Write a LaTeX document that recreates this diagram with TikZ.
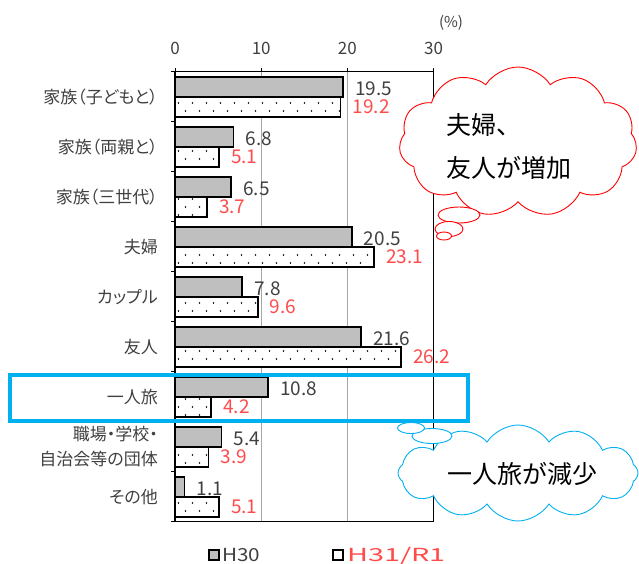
\documentclass[tikz,border=0pt]{standalone}
\usepackage{fontspec}
\newfontfamily\jp{Noto Sans CJK JP}
\newfontfamily\jpp[RawFeature=+palt]{Noto Sans CJK JP}
\usetikzlibrary{shapes.symbols,shapes.geometric,patterns}
\pgfdeclarepatternformonly{sparsedots}{\pgfpoint{-1pt}{-1pt}}{\pgfpoint{15pt}{17pt}}{\pgfpoint{14pt}{16pt}}{%
 \pgfpathcircle{\pgfpoint{3.5pt}{4pt}}{0.8pt}%
 \pgfpathcircle{\pgfpoint{10.5pt}{12pt}}{0.8pt}%
 \pgfusepath{fill}}
\definecolor{barg}{HTML}{BFBFBF}
\definecolor{txtg}{HTML}{404040}
\definecolor{valred}{HTML}{FF4B4B}
\definecolor{cyanb}{HTML}{00B0F0}
\definecolor{gridg}{HTML}{A6A6A6}
\tikzset{
  graybar/.style={draw=black, line width=1.6pt, fill=barg},
  dotbar/.style={draw=black, line width=1.6pt, preaction={fill=white}, pattern=sparsedots},
  catlab/.style={anchor=east, inner sep=0, align=right, text=txtg, font=\jpp\fontsize{17}{25}\selectfont},
  vallab/.style={anchor=west, inner sep=0, text=txtg, font=\jp\fontsize{19}{22}\selectfont},
  redlab/.style={anchor=west, inner sep=0, text=valred, font=\jp\fontsize{19}{22}\selectfont},
  ticklab/.style={inner sep=0, text=txtg, font=\jp\fontsize{17}{20}\selectfont},
  leglab/.style={anchor=west, inner sep=0, font=\jp\fontsize{18}{20}\selectfont},
  cloudtxt/.style={inner sep=0, text=black, font=\jp\fontsize{25}{28}\selectfont},
  bubble/.style={ellipse, fill=white, inner sep=0, line width=0.9pt},
}
\begin{document}
\begin{tikzpicture}[x=1pt,y=-1pt]
\useasboundingbox (0,0) rectangle (639,563);
% grid lines
\draw[gridg, line width=0.8pt] (261.2,71.7) -- (261.2,521.7);
\draw[gridg, line width=0.8pt] (347.4,71.7) -- (347.4,521.7);
% bars and labels
\foreach \i/\lab/\a/\b in {
  0/{家族（子どもと）}/19.5/19.2,
  1/{家族（両親と）}/6.8/5.1,
  2/{家族（三世代）}/6.5/3.7,
  3/{夫婦}/20.5/23.1,
  4/{カップル}/7.8/9.6,
  5/{友人}/21.6/26.2,
  6/{一人旅}/10.8/4.2,
  7/{職場・学校・\\自治会等の団体}/5.4/3.9,
  8/{その他}/1.1/5.1}{
  \pgfmathsetmacro\t{71.7+50*\i}
  \draw[graybar] (175,\t+5) rectangle ({175+8.62*\a},\t+25);
  \draw[dotbar] (175,\t+25) rectangle ({175+8.62*\b},\t+45);
  \node[catlab] (c\i) at (158,\t+25) {\lab};
  \node[vallab] (g\i) at ({175+8.62*\a+12},\t+17) {\a};
  \node[redlab] (r\i) at ({175+8.62*\b+12},\t+35) {\b};
}
% frame
\draw[black, line width=1pt] (175,71.7) -- (433.6,71.7);
\draw[black, line width=1.4pt] (433.6,71.7) -- (433.6,521.7);
\draw[black, line width=1.4pt] (175,71.7) -- (175,521.7) -- (433.6,521.7);
\foreach \k in {0,1,2,3}{
  \draw[black, line width=0.8pt] ({175+86.2*\k},71.7) -- ({175+86.2*\k},67.5);
}
\foreach \k in {0,...,9}{
  \draw[black, line width=0.8pt] (175,{71.7+50*\k}) -- (171,{71.7+50*\k});
}
% tick labels
\node[ticklab] (t0) at (175,48) {0};
\node[ticklab] (t1) at (261.2,48) {10};
\node[ticklab] (t2) at (347.4,48) {20};
\node[ticklab] (t3) at (433.6,48) {30};
\node[ticklab, font=\jp\fontsize{15}{18}\selectfont] (pct) at (451,23) {(\%)};
% legend
\draw[black, line width=1.4pt, fill=barg] (209,550) rectangle (219,560);
\node[leglab, text=txtg] (lg1) at (222,555.5) {\scalebox{1.15}[1]{H30}};
\draw[black, line width=1.4pt, fill=white] (333,550) rectangle (343,560);
\node[leglab, text=valred] (lg2) at (347,555.5) {\scalebox{1.6}[1]{H31/R1}};
% red cloud
\node[cloud, cloud puffs=11, cloud puff arc=115, aspect=1.6, draw=red, fill=white, line width=0.9pt,
      minimum width=238pt, minimum height=150pt, inner sep=0] (rc) at (518,142) {};
\node[bubble, draw=red, minimum width=42pt, minimum height=16pt] (rb1) at (459,215) {};
\node[bubble, draw=red, minimum width=28pt, minimum height=15pt] (rb2) at (449,229) {};
\node[bubble, draw=red, minimum width=15pt, minimum height=8pt] (rb3) at (444,236) {};
\node[cloudtxt, anchor=west] (rt1) at (446,125) {夫婦、};
\node[cloudtxt, anchor=west] (rt2) at (446,168) {友人が増加};
% blue cloud
\node[cloud, cloud puffs=12, cloud puff arc=115, aspect=2.6, draw=cyanb, fill=white, line width=0.9pt,
      minimum width=240pt, minimum height=96pt, inner sep=0] (bc) at (518,473) {};
\node[bubble, draw=cyanb, minimum width=40pt, minimum height=15pt] (bb1) at (432,436) {};
\node[bubble, draw=cyanb, minimum width=27pt, minimum height=11pt] (bb2) at (411,428) {};
\node[cloudtxt] (bt) at (522,474) {一人旅が減少};
% highlight rectangle
\draw[cyanb, line width=4pt] (10,374.5) rectangle (467.5,420.5);
\end{tikzpicture}
\end{document}
